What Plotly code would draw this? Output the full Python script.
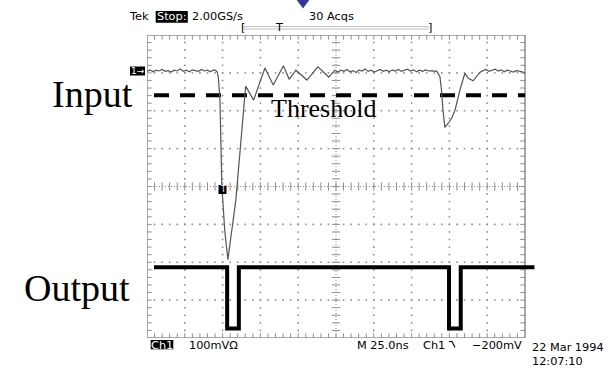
import plotly.graph_objects as go

# ---------------- data (oscilloscope divisions: x 0..10, y -4..4) ----------------
input_x = [0.00, 0.08, 0.16, 0.24, 0.32, 0.40, 0.48, 0.56, 0.64, 0.72, 0.80, 0.88,
           0.96, 1.04, 1.12, 1.20, 1.28, 1.36, 1.44, 1.52, 1.60, 1.68, 1.76, 1.82,
           1.86, 1.89, 1.93, 1.98, 2.06, 2.14, 2.35, 2.61, 2.82, 3.12, 3.34, 3.61,
           3.76, 3.94, 4.23, 4.52, 4.81, 4.97,
           5.05, 5.13, 5.21, 5.29, 5.37, 5.45, 5.53, 5.61, 5.69, 5.77, 5.85, 5.93,
           6.01, 6.09, 6.17, 6.25, 6.33, 6.41, 6.49, 6.57, 6.65, 6.73, 6.81, 6.89,
           6.97, 7.05, 7.13, 7.21, 7.29, 7.37, 7.45, 7.53, 7.60,
           7.66, 7.75, 7.79, 7.83, 7.88, 7.97, 8.06, 8.15, 8.28, 8.41, 8.50, 8.63,
           8.81, 8.89, 8.97, 9.05, 9.13, 9.21, 9.29, 9.37, 9.45, 9.53, 9.61, 9.69,
           9.77, 9.85, 9.93, 10.00]
input_y = [3.04, 3.08, 3.03, 3.07, 3.05, 3.09, 3.04, 3.06, 3.02, 3.07, 3.05, 3.10,
           3.04, 3.07, 3.03, 3.08, 3.06, 3.04, 3.09, 3.05, 3.07, 3.03, 3.08, 3.06,
           3.02, 2.85, 2.30, 0.00, -1.20, -1.93, -0.36, 2.65, 2.28, 3.13, 2.68, 3.19,
           2.83, 3.07, 2.81, 3.16, 2.89, 3.07,
           3.02, 3.07, 3.04, 3.09, 3.03, 3.06, 3.01, 3.08, 3.05, 3.10, 3.04, 3.07,
           3.02, 3.06, 3.09, 3.04, 3.07, 3.03, 3.08, 3.05, 3.09, 3.04, 3.06, 3.10,
           3.05, 3.08, 3.03, 3.07, 3.04, 3.08, 3.05, 3.06, 3.04,
           3.05, 2.90, 2.55, 2.02, 1.56, 1.67, 1.80, 2.02, 2.55, 2.99, 2.86, 2.79,
           3.02, 3.06, 3.09, 3.04, 3.07, 3.10, 3.05, 3.08, 3.03, 3.07, 3.05, 3.02,
           3.06, 3.04, 3.03, 2.99]

output_x = [0.185, 2.12, 2.12, 2.43, 2.43, 7.99, 7.99, 8.30, 8.30, 10.25]
output_y = [-2.13, -2.13, -3.75, -3.75, -2.13, -2.13, -3.75, -3.75, -2.13, -2.13]

threshold_x = [0.185, 10.0]
threshold_y = [2.41, 2.41]

# graticule: 10 x 8 divisions, 5 minor subdivisions each
x_div = [1, 2, 3, 4, 6, 7, 8, 9]
y_div = [-3, -2, -1, 1, 2, 3]
x_minor = [i * 0.2 for i in range(1, 50)]
y_minor = [-4 + i * 0.2 for i in range(1, 40)]

# ---------------- layout geometry ----------------
W, H = 614, 368
ML, MR, MT, MB = 147, 60, 35, 30
PW = W - ML - MR          # 407
PH = H - MT - MB          # 303
DIV = 37.8
INSET = 0.05              # half tick length in divisions


def px(x):
    return (x - ML) / PW


def py(y):
    return 1 - (y - MT) / PH


GRID = "#8f8f8f"
fig = go.Figure()

# dotted graticule lines (one dot per minor subdivision)
dot_x = [xv for xv in x_div for _ in y_minor] + [xm for _ in y_div for xm in x_minor]
dot_y = [ym for _ in x_div for ym in y_minor] + [yv for yv in y_div for _ in x_minor]
fig.add_trace(go.Scatter(x=dot_x, y=dot_y, mode="markers",
                         marker=dict(symbol="square", size=1.6, color=GRID,
                                     line=dict(width=0)),
                         hoverinfo="skip", showlegend=False))


def ticks(xs, ys, sym, size):
    fig.add_trace(go.Scatter(x=xs, y=ys, mode="markers",
                             marker=dict(symbol=sym, size=size, color=GRID,
                                         line=dict(color=GRID, width=1)),
                             hoverinfo="skip", showlegend=False))


# border ticks (inside)
ticks(x_minor, [4 - INSET] * len(x_minor), "line-ns-open", 4)
ticks(x_minor, [-4 + INSET] * len(x_minor), "line-ns-open", 4)
ticks([INSET] * len(y_minor), y_minor, "line-ew-open", 4)
ticks([10 - INSET] * len(y_minor), y_minor, "line-ew-open", 4)
# center axis ticks
ticks(x_minor, [0] * len(x_minor), "line-ns-open", 6)
ticks([5] * len(y_minor), y_minor, "line-ew-open", 6)

# threshold
fig.add_trace(go.Scatter(x=threshold_x, y=threshold_y, mode="lines",
                         line=dict(color="black", width=4, dash="15px,11px"),
                         hoverinfo="skip", showlegend=False))
# input trace
fig.add_trace(go.Scatter(x=input_x, y=input_y, mode="lines",
                         line=dict(color="#555555", width=1.2),
                         hoverinfo="skip", showlegend=False))
# output trace
fig.add_trace(go.Scatter(x=output_x, y=output_y, mode="lines",
                         line=dict(color="black", width=4),
                         hoverinfo="skip", showlegend=False))

shapes = []
# center lines
shapes.append(dict(type="line", xref="x", yref="y", x0=5, x1=5, y0=-4, y1=4, layer="below",
                   line=dict(color=GRID, width=1, dash="1px,2px")))
shapes.append(dict(type="line", xref="x", yref="y", x0=0, x1=10, y0=0, y1=0, layer="below",
                   line=dict(color=GRID, width=1, dash="1px,2px")))
# frame
shapes.append(dict(type="rect", xref="x", yref="y", x0=0, x1=10, y0=-4, y1=4, layer="below",
                   line=dict(color=GRID, width=1.5)))

# blue triangle marker at top
shapes.append(dict(type="path", xref="paper", yref="paper",
                   path=f"M{px(296)},{py(-1)} L{px(310)},{py(-1)} L{px(303)},{py(8.5)} Z",
                   fillcolor="#35359b", line=dict(width=0)))
# trigger bracket bar
shapes.append(dict(type="rect", xref="paper", yref="paper",
                   x0=px(244), x1=px(428), y0=py(26.5), y1=py(29),
                   line=dict(color="#b0b0b0", width=0.8)))
# inverse boxes
shapes.append(dict(type="rect", xref="paper", yref="paper",
                   x0=px(155.7), x1=px(187.8), y0=py(11), y1=py(22.7),
                   fillcolor="black", line=dict(width=0)))
shapes.append(dict(type="rect", xref="paper", yref="paper",
                   x0=px(150.7), x1=px(173.3), y0=py(340), y1=py(349.3),
                   fillcolor="black", line=dict(width=0)))
shapes.append(dict(type="rect", xref="paper", yref="paper",
                   x0=px(130), x1=px(145), y0=py(66.5), y1=py(75.5),
                   fillcolor="black", line=dict(width=0)))
shapes.append(dict(type="rect", xref="paper", yref="paper",
                   x0=px(218.5), x1=px(226.5), y0=py(185), y1=py(194),
                   fillcolor="black", line=dict(width=0)))
# trigger slope symbol
shapes.append(dict(type="path", xref="paper", yref="paper",
                   path=f"M{px(449)},{py(341.5)} L{px(452)},{py(341.5)} L{px(455)},{py(347.5)}",
                   line=dict(color="black", width=1.2)))

ann = []


def txt(s, x, y, size=11.3, color="black", family="DejaVu Sans", xanchor="left",
        yanchor="middle"):
    ann.append(dict(text=s, x=px(x), y=py(y), xref="paper", yref="paper",
                    showarrow=False, xanchor=xanchor, yanchor=yanchor,
                    font=dict(size=size, color=color, family=family)))


serif = "Liberation Serif"
txt("Input", 92, 94, size=38, family=serif, xanchor="center")
txt("Output", 77, 288, size=38, family=serif, xanchor="center")
txt("Threshold", 323, 108, size=26, family=serif, xanchor="center")

txt("Tek", 127, 17)
txt("Stop:", 171.7, 17, color="white", xanchor="center")
txt("2.00GS/s", 190, 17)
txt("30 Acqs", 307, 17)
txt("[", 239, 27.5)
txt("T", 279, 27.5, xanchor="center")
txt("]", 426, 27.5)

txt("1\u2192", 137.5, 71, size=9, color="white", xanchor="center")
txt("T", 222.5, 189.5, size=8, color="white", xanchor="center")

txt("Ch1", 162, 345, color="white", xanchor="center")
txt("100mV\u03a9", 187, 345)
txt("M 25.0ns", 355, 345)
txt("Ch1", 421, 345)
txt("\u2212200mV", 470, 345)
txt("22 Mar 1994", 530, 347)
txt("12:07:10", 530, 361)

fig.update_layout(
    width=W, height=H,
    margin=dict(l=ML, r=MR, t=MT, b=MB),
    paper_bgcolor="white", plot_bgcolor="white",
    font=dict(family="DejaVu Sans", size=11, color="black"),
    showlegend=False,
    shapes=shapes, annotations=ann,
    xaxis=dict(range=[0, PW / DIV], visible=False, fixedrange=True),
    yaxis=dict(range=[-4, 4], visible=False, fixedrange=True),
)

fig.write_html("out.html", config={"displayModeBar": False})
